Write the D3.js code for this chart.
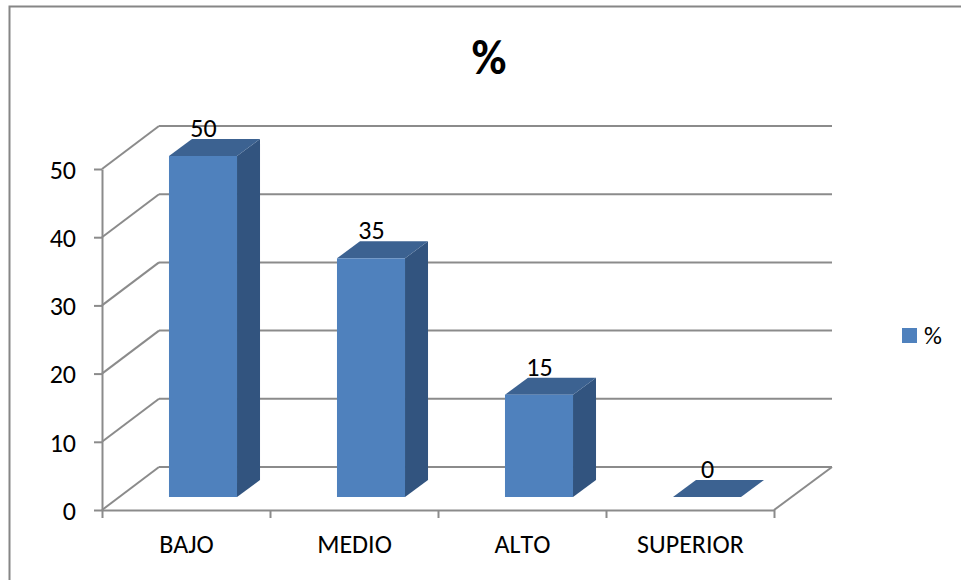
<!DOCTYPE html>
<html lang="en">
<head>
    <meta charset="UTF-8">
    <title>%</title>
    <style>
        html, body { margin: 0; padding: 0; background: #fff; }
        svg { display: block; }
        text { font-family: Carlito, Lato, "Open Sans", sans-serif; fill: #000; font-kerning: none; }
        .grid line, .axis path, .axis line { stroke: #8b8b8b; stroke-width: 2px; fill: none; }
        .axis text { font-size: 26px; }
        .label { font-size: 26px; text-anchor: middle; }
    </style>
    <script src="https://d3js.org/d3.v7.min.js"></script>
</head>
<body>
    <script>
        const categories = ["BAJO", "MEDIO", "ALTO", "SUPERIOR"];
        const values = [50, 35, 15, 0];
        const yTicks = [0, 10, 20, 30, 40, 50];
        const seriesName = "%";
        const chartTitle = "%";

        const width = 961, height = 580;
        // oblique offsets of the 3D box
        const wallDx = 57, wallDy = -43;
        const barDx = 17, barDy = -13;
        const depthDx = 23, depthDy = -17;

        const svg = d3.select("body").append("svg")
            .attr("width", width).attr("height", height);

        // outer frame
        svg.append("path")
            .attr("d", "M9.5,580V6.5H961")
            .attr("fill", "none").attr("stroke", "#868686").attr("stroke-width", 2);

        svg.append("text").text(chartTitle)
            .attr("x", 489).attr("y", 74)
            .attr("text-anchor", "middle")
            .style("font-size", "48px").style("font-weight", "bold");

        const x = d3.scaleBand().domain(categories).range([102, 774])
            .paddingInner(0.595).paddingOuter(0.2975);
        const xTickScale = d3.scalePoint().domain(d3.range(categories.length + 1)).range([102, 774]);
        const y = d3.scaleLinear().domain([0, 50]).range([510, 169]);

        // back wall and side wall lines
        const grid = svg.append("g").attr("class", "grid");
        yTicks.forEach(t => {
            grid.append("line")
                .attr("x1", 102).attr("y1", y(t))
                .attr("x2", 102 + wallDx).attr("y2", y(t) + wallDy);
            grid.append("line")
                .attr("x1", 102 + wallDx).attr("y1", y(t) + wallDy)
                .attr("x2", 774 + wallDx + 1).attr("y2", y(t) + wallDy);
        });
        grid.append("line")
            .attr("x1", 774).attr("y1", y(0))
            .attr("x2", 774 + wallDx + 1).attr("y2", y(0) + wallDy);

        // axes
        const yAxis = d3.axisLeft(y).tickValues(yTicks).tickSize(8).tickPadding(18).tickSizeOuter(0);
        svg.append("g").attr("class", "axis").attr("transform", "translate(102,0)").call(yAxis)
            .selectAll("text").attr("dy", "0.36em");

        const xAxisG = svg.append("g").attr("class", "axis").attr("transform", `translate(0,${y(0)})`);
        xAxisG.call(d3.axisBottom(xTickScale).tickValues(d3.range(categories.length + 1))
            .tickSize(8).tickSizeOuter(0).tickFormat(""));
        xAxisG.selectAll(".cat").data(categories).enter().append("text")
            .attr("class", "cat")
            .attr("x", d => x(d) + x.bandwidth() / 2 + 0.5)
            .attr("y", 43)
            .attr("text-anchor", "middle")
            .style("font-size", "26px")
            .text(d => d);

        // bars
        const h0 = y(0);
        const bars = svg.append("g").selectAll("g").data(categories).enter().append("g")
            .attr("transform", `translate(${barDx},${barDy})`);
        const valueOf = (d, i) => y(values[i]);

        bars.append("path")
            .attr("fill", "#32547f")
            .attr("d", (d, i) => {
                const r = x(d) + x.bandwidth(), t = valueOf(d, i);
                return `M${r},${t}L${r + depthDx},${t + depthDy}L${r + depthDx},${h0 + depthDy}L${r},${h0}Z`;
            })
            .style("display", (d, i) => values[i] === 0 ? "none" : null);
        bars.append("path")
            .attr("fill", "#3c6291")
            .attr("d", (d, i) => {
                const l = x(d), r = l + x.bandwidth(), t = valueOf(d, i);
                return `M${l},${t}L${l + depthDx},${t + depthDy}L${r + depthDx},${t + depthDy}L${r},${t}Z`;
            });
        bars.append("rect")
            .attr("x", d => x(d))
            .attr("width", x.bandwidth())
            .attr("y", (d, i) => valueOf(d, i))
            .attr("height", (d, i) => h0 - valueOf(d, i))
            .attr("fill", "#4f81bd");

        // data labels
        bars.append("text").attr("class", "label")
            .attr("x", d => x(d) + x.bandwidth() / 2 + 0.5)
            .attr("y", (d, i) => valueOf(d, i) - 19)
            .text((d, i) => values[i]);

        // legend
        const legend = svg.append("g").attr("transform", "translate(902,328)");
        legend.append("rect").attr("width", 15).attr("height", 15).attr("fill", "#4f81bd");
        legend.append("text").text(seriesName).attr("x", 22).attr("y", 16)
            .style("font-size", "25px");
    </script>
</body>
</html>
